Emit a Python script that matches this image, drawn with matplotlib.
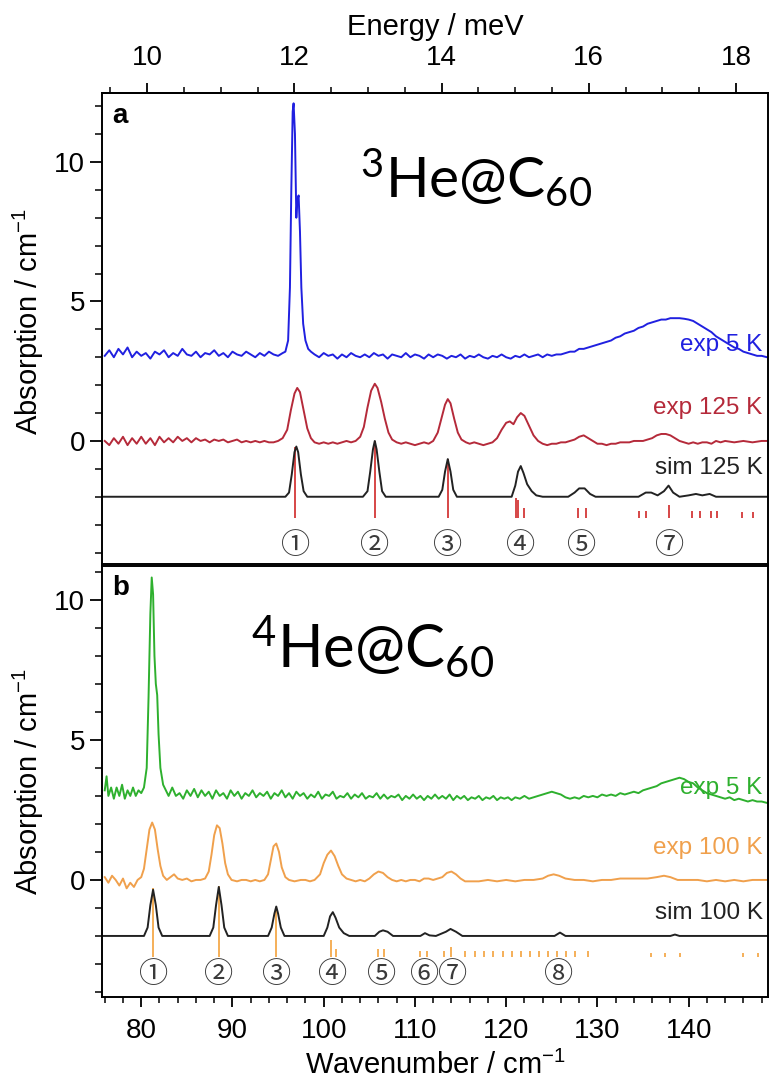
import numpy as np
import matplotlib
matplotlib.use("Agg")
import matplotlib.pyplot as plt
from matplotlib.ticker import MultipleLocator, FixedLocator

plt.rcParams['font.family'] = ['Liberation Sans', 'DejaVu Sans']
plt.rcParams['mathtext.default'] = 'regular'

# ---------------- Panel a : 3He@C60 ----------------
a_exp5_x = [76.0, 76.5, 77.0, 77.5, 78.0, 78.5, 79.0, 79.5, 80.0, 80.5, 81.0, 81.5, 82.0, 82.5, 83.0, 83.5,
            84.0, 84.5, 85.0, 85.5, 86.0, 86.5, 87.0, 87.5, 88.0, 88.5, 89.0, 89.5, 90.0, 90.5, 91.0, 91.5,
            92.0, 92.5, 93.0, 93.5, 94.0, 94.5, 95.0, 95.5, 95.8, 96.1, 96.3, 96.45, 96.6, 96.7, 96.85, 97.0,
            97.1, 97.25, 97.4, 97.55, 97.75, 98.0, 98.3, 98.6, 99.0, 99.5, 100.0, 100.5, 101.0, 101.5, 102.0,
            102.5, 103.0, 103.5, 104.0, 104.5, 105.0, 105.5, 106.0, 106.5, 107.0, 107.5, 108.0, 108.5, 109.0,
            109.5, 110.0, 110.5, 111.0, 111.5, 112.0, 112.5, 113.0, 113.5, 114.0, 114.5, 115.0, 115.5, 116.0,
            116.5, 117.0, 117.5, 118.0, 118.5, 119.0, 119.5, 120.0, 120.5, 121.0, 121.5, 122.0, 122.5, 123.0,
            123.5, 124.0, 124.5, 125.0, 125.5, 126.0, 126.5, 127.0, 127.5, 128.0, 128.5, 129.0, 129.5, 130.0,
            130.5, 131.0, 131.5, 132.0, 132.5, 133.0, 133.5, 134.0, 134.5, 135.0, 135.5, 136.0, 136.5, 137.0,
            137.5, 138.0, 138.5, 139.0, 139.5, 140.0, 140.5, 141.0, 141.5, 142.0, 142.5, 143.0, 143.5, 144.0,
            144.5, 145.0, 145.5, 146.0, 146.5, 147.0, 147.5, 148.0, 148.6]
a_exp5_y = [3.05, 3.25, 3.0, 3.3, 3.1, 3.35, 3.0, 3.2, 3.05, 3.15, 2.95, 3.2, 3.1, 3.25, 3.0, 3.15,
            3.05, 3.3, 3.1, 3.05, 3.2, 3.0, 3.15, 3.1, 3.25, 3.05, 3.15, 3.0, 3.2, 3.1, 3.05, 3.2,
            3.1, 3.0, 3.15, 3.05, 3.2, 3.1, 3.05, 3.15, 3.2, 3.6, 5.5, 9.0, 11.8, 12.1, 11.0, 8.0,
            8.6, 8.8, 7.5, 5.5, 4.2, 3.6, 3.3, 3.2, 3.1, 3.0, 3.15, 3.05, 3.1, 2.95, 3.1,
            3.0, 3.15, 3.05, 3.0, 3.1, 3.0, 3.15, 3.05, 3.1, 2.95, 3.1, 3.05, 3.0, 3.15,
            3.0, 3.1, 3.05, 2.95, 3.1, 3.0, 3.1, 3.05, 2.95, 3.05, 3.0, 3.1, 2.95, 3.05,
            3.0, 3.1, 3.0, 2.95, 3.05, 3.0, 3.1, 3.0, 2.95, 3.05, 3.0, 3.1, 3.0, 3.05,
            3.1, 3.0, 3.1, 3.05, 3.1, 3.1, 3.15, 3.2, 3.2, 3.3, 3.3, 3.35, 3.4, 3.45,
            3.5, 3.55, 3.6, 3.7, 3.75, 3.85, 3.9, 3.95, 4.05, 4.1, 4.2, 4.25, 4.3, 4.35,
            4.35, 4.4, 4.4, 4.4, 4.38, 4.35, 4.3, 4.2, 4.1, 4.0, 3.9, 3.75, 3.65, 3.55,
            3.45, 3.35, 3.3, 3.2, 3.15, 3.1, 3.05, 3.05, 3.0]

a_exp125_x = [76.0, 76.5, 77.0, 77.5, 78.0, 78.5, 79.0, 79.5, 80.0, 80.5, 81.0, 81.5, 82.0, 82.5, 83.0, 83.5,
              84.0, 84.5, 85.0, 85.5, 86.0, 86.5, 87.0, 87.5, 88.0, 88.5, 89.0, 89.5, 90.0, 90.5, 91.0, 91.5,
              92.0, 92.5, 93.0, 93.5, 94.0, 94.5, 95.0, 95.5, 96.0, 96.4, 96.8, 97.1, 97.4, 97.8, 98.2, 98.6,
              99.0, 99.5, 100.0, 100.5, 101.0, 101.5, 102.0, 102.5, 103.0, 103.5, 104.0, 104.4, 104.8, 105.2,
              105.6, 105.9, 106.3, 106.7, 107.1, 107.5, 108.0, 108.5, 109.0, 109.5, 110.0, 110.5, 111.0, 111.5,
              112.0, 112.5, 112.9, 113.3, 113.6, 113.9, 114.3, 114.7, 115.1, 115.6, 116.0, 116.5, 117.0, 117.5,
              118.0, 118.5, 119.0, 119.5, 120.0, 120.4, 120.8, 121.2, 121.6, 122.0, 122.5, 123.0, 123.5, 124.0,
              124.5, 125.0, 125.5, 126.0, 126.5, 127.0, 127.5, 128.0, 128.5, 129.0, 129.5, 130.0, 130.5, 131.0,
              131.5, 132.0, 132.5, 133.0, 133.5, 134.0, 134.5, 135.0, 135.5, 136.0, 136.5, 137.0, 137.5, 138.0,
              138.5, 139.0, 139.5, 140.0, 140.5, 141.0, 141.5, 142.0, 142.5, 143.0, 143.5, 144.0, 145.0, 146.0,
              147.0, 148.0, 148.6]
a_exp125_y = [0.0, -0.15, 0.1, -0.1, 0.15, -0.15, 0.1, -0.1, 0.15, -0.1, 0.1, -0.15, 0.15, -0.05, 0.1, -0.05,
              0.15, 0.0, 0.1, -0.05, 0.1, 0.0, 0.05, -0.05, 0.05, 0.0, 0.05, -0.05, 0.0, 0.05, -0.05, 0.0,
              -0.05, 0.0, -0.05, 0.0, -0.05, -0.05, 0.0, 0.1, 0.4, 1.1, 1.7, 1.9, 1.75, 1.1, 0.45, 0.1,
              -0.05, -0.1, -0.05, -0.1, -0.05, -0.1, -0.05, 0.0, -0.05, 0.0, 0.15, 0.5, 1.2, 1.8,
              2.05, 1.9, 1.4, 0.8, 0.3, 0.05, -0.05, -0.1, -0.05, -0.1, -0.15, -0.1, -0.05, -0.1,
              0.0, 0.3, 0.8, 1.3, 1.5, 1.35, 0.8, 0.3, 0.05, -0.05, -0.1, -0.05, -0.1, -0.15,
              -0.1, -0.05, 0.1, 0.4, 0.65, 0.7, 0.6, 0.85, 1.0, 0.9, 0.55, 0.2, 0.0, -0.1,
              -0.15, -0.1, -0.1, -0.05, -0.05, 0.0, 0.05, 0.15, 0.2, 0.1, 0.0, -0.1, -0.1, -0.15,
              -0.1, -0.1, -0.05, -0.05, -0.05, 0.0, 0.0, 0.0, 0.05, 0.1, 0.2, 0.25, 0.25, 0.2,
              0.1, 0.0, -0.05, -0.1, -0.05, -0.1, -0.05, -0.05, -0.1, 0.0, -0.05, 0.0, -0.05, 0.0,
              -0.05, 0.0, 0.0]

a_sim_x = [75.7, 95.8, 96.2, 96.5, 96.8, 97.0, 97.2, 97.5, 97.8, 98.2, 104.3, 104.8, 105.1, 105.4, 105.6,
           105.8, 106.1, 106.4, 106.8, 112.6, 113.0, 113.3, 113.6, 113.9, 114.2, 114.6, 120.6, 121.0, 121.3,
           121.6, 121.9, 122.3, 122.8, 123.3, 124.0, 126.8, 127.5, 128.0, 128.6, 129.2, 129.8, 134.5, 135.3,
           135.9, 136.6, 137.3, 137.8, 138.3, 139.0, 140.0, 140.8, 141.5, 142.3, 143.0, 148.6]
a_sim_y = [-2.0, -2.0, -1.85, -1.2, -0.4, -0.2, -0.4, -1.2, -1.8, -2.0, -2.0, -1.8, -1.1, -0.3, 0.0,
           -0.3, -1.1, -1.8, -2.0, -2.0, -1.75, -1.1, -0.65, -1.1, -1.75, -2.0, -2.0, -1.6, -1.1,
           -0.9, -1.15, -1.55, -1.8, -1.95, -2.0, -2.0, -1.85, -1.7, -1.7, -1.9, -2.0, -2.0, -1.85,
           -1.85, -1.95, -1.8, -1.6, -1.85, -2.0, -1.95, -1.9, -1.95, -1.9, -2.0, -2.0]

a_stick_x = [96.9, 105.6, 113.6, 121.1, 121.3, 122.0, 127.9, 128.8, 134.6, 135.3, 137.9, 140.4,
             141.2, 142.4, 143.1, 145.9, 147.1]
a_stick_top = [-0.2, 0.0, -0.65, -2.05, -2.1, -2.4, -2.4, -2.4, -2.5, -2.5, -2.3, -2.5,
               -2.5, -2.5, -2.5, -2.55, -2.55]
a_stick_base = -2.75

a_peak_labels = ['①', '②', '③', '④', '⑤', '⑦']
a_peak_pos = [96.9, 105.6, 113.6, 121.6, 128.3, 137.9]

# ---------------- Panel b : 4He@C60 ----------------
b_exp5_x = [76.0, 76.2, 76.4, 76.7, 77.0, 77.3, 77.6, 77.9, 78.2, 78.5, 78.8, 79.1, 79.4, 79.7, 80.0, 80.3,
            80.6, 80.8, 81.0, 81.15, 81.3, 81.45, 81.6, 81.75, 81.9, 82.1, 82.4, 82.7, 83.0, 83.4, 83.8, 84.2,
            84.6, 85.0, 85.4, 85.8, 86.2, 86.6, 87.0, 87.4, 87.8, 88.2, 88.6, 89.0, 89.4, 89.8, 90.2, 90.6,
            91.0, 91.4, 91.8, 92.2, 92.6, 93.0, 93.4, 93.8, 94.2, 94.6, 95.0, 95.4, 95.8, 96.2, 96.6, 97.0,
            97.4, 97.8, 98.2, 98.6, 99.0, 99.4, 99.8, 100.2, 100.6, 101.0, 101.4, 101.8, 102.2, 102.6, 103.0,
            103.4, 103.8, 104.2, 104.6, 105.0, 105.4, 105.8, 106.2, 106.6, 107.0, 107.4, 107.8, 108.2, 108.6,
            109.0, 109.4, 109.8, 110.2, 110.6, 111.0, 111.4, 111.8, 112.2, 112.6, 113.0, 113.4, 113.8, 114.2,
            114.6, 115.0, 115.4, 115.8, 116.2, 116.6, 117.0, 117.4, 117.8, 118.2, 118.6, 119.0, 119.4, 119.8,
            120.2, 120.6, 121.0, 121.5, 122.0, 122.5, 123.0, 123.5, 124.0, 124.5, 125.0, 125.5, 126.0, 126.5,
            127.0, 127.5, 128.0, 128.5, 129.0, 129.5, 130.0, 130.5, 131.0, 131.5, 132.0, 132.5, 133.0, 133.5,
            134.0, 134.5, 135.0, 135.5, 136.0, 136.5, 137.0, 137.5, 138.0, 138.5, 139.0, 139.5, 140.0, 140.5,
            141.0, 141.5, 142.0, 142.5, 143.0, 143.5, 144.0, 144.5, 145.0, 145.5, 146.0, 146.5, 147.0, 147.5,
            148.0, 148.6]
b_exp5_y = [3.2, 3.7, 3.0, 3.3, 2.9, 3.3, 3.0, 3.4, 2.9, 3.2, 3.0, 3.3, 3.0, 3.2, 3.1, 3.3,
            4.0, 6.5, 9.5, 10.8, 10.2, 8.0, 7.0, 6.6, 5.2, 4.0, 3.4, 3.2, 3.0, 3.3, 3.0, 3.1,
            2.9, 3.2, 3.0, 3.25, 2.95, 3.2, 3.0, 3.15, 2.9, 3.2, 3.0, 3.1, 2.9, 3.2, 3.0, 3.15,
            2.9, 3.1, 3.0, 3.2, 2.95, 3.1, 3.0, 3.15, 2.9, 3.1, 3.0, 3.2, 2.95, 3.1, 2.9, 3.15,
            3.0, 3.1, 2.9, 3.05, 2.95, 3.15, 2.9, 3.05, 3.0, 3.15, 2.9, 3.0, 2.95, 3.1, 2.9,
            3.05, 2.95, 3.1, 2.9, 3.0, 2.95, 3.1, 2.9, 3.05, 2.9, 3.0, 2.95, 3.05, 2.85,
            3.0, 2.9, 3.05, 2.9, 3.0, 2.85, 3.0, 2.9, 3.05, 2.9, 3.0, 2.9, 3.05, 2.85,
            3.0, 2.9, 3.0, 2.85, 2.95, 2.9, 3.0, 2.85, 2.95, 2.9, 3.0, 2.85, 2.95, 2.9,
            2.95, 2.85, 2.95, 2.9, 3.0, 2.9, 2.95, 3.0, 3.05, 3.1, 3.15, 3.1, 3.05, 2.95,
            2.9, 2.95, 2.9, 3.0, 2.95, 3.0, 2.95, 3.05, 3.0, 3.05, 3.0, 3.1, 3.05, 3.1,
            3.15, 3.1, 3.2, 3.25, 3.3, 3.35, 3.45, 3.5, 3.55, 3.6, 3.65, 3.6, 3.5, 3.45,
            3.3, 3.2, 3.1, 3.05, 3.0, 2.95, 2.9, 2.95, 2.85, 2.9, 2.85, 2.8, 2.85, 2.8,
            2.8, 2.75]

b_exp100_x = [76.0, 76.4, 76.8, 77.2, 77.6, 78.0, 78.4, 78.8, 79.2, 79.6, 80.0, 80.3, 80.6, 80.9, 81.2, 81.5,
              81.8, 82.1, 82.4, 82.8, 83.2, 83.6, 84.0, 84.5, 85.0, 85.5, 86.0, 86.5, 87.0, 87.4, 87.7, 88.0,
              88.3, 88.6, 88.9, 89.2, 89.5, 89.9, 90.5, 91.0, 91.5, 92.0, 92.5, 93.0, 93.5, 93.9, 94.2, 94.5,
              94.8, 95.1, 95.4, 95.8, 96.2, 96.8, 97.5, 98.0, 98.5, 99.0, 99.6, 100.0, 100.4, 100.8, 101.2,
              101.6, 102.0, 102.5, 103.0, 103.5, 104.0, 104.5, 105.0, 105.5, 106.0, 106.5, 107.0, 107.5, 108.0,
              108.5, 109.0, 109.5, 110.0, 110.5, 111.0, 111.5, 112.0, 112.5, 113.0, 113.5, 114.0, 114.5, 115.0,
              115.5, 116.0, 117.0, 118.0, 119.0, 120.0, 121.0, 122.0, 123.0, 124.0, 124.6, 125.2, 125.8, 126.5,
              127.5, 128.5, 129.5, 130.5, 131.5, 132.5, 133.5, 134.5, 135.5, 136.5, 137.3, 138.0, 138.8, 140.0,
              141.0, 142.0, 143.0, 144.0, 145.0, 146.0, 147.0, 148.6]
b_exp100_y = [0.1, -0.1, 0.15, 0.0, -0.2, 0.05, -0.3, -0.1, -0.25, 0.0, 0.1, 0.4, 1.1, 1.8, 2.05, 1.8,
              1.1, 0.5, 0.15, 0.0, 0.1, 0.2, 0.05, 0.0, 0.05, -0.05, 0.0, 0.0, 0.05, 0.3, 0.9, 1.6,
              1.95, 1.85, 1.3, 0.6, 0.2, 0.0, -0.05, 0.0, 0.0, -0.05, 0.0, -0.05, 0.0, 0.2, 0.7, 1.2,
              1.3, 1.0, 0.45, 0.1, 0.0, -0.05, 0.0, 0.0, -0.05, 0.0, 0.2, 0.6, 0.9, 1.05, 0.85,
              0.5, 0.2, 0.05, 0.0, -0.05, 0.0, -0.05, 0.05, 0.2, 0.3, 0.25, 0.1, 0.0, -0.05,
              0.0, -0.05, 0.0, 0.0, -0.05, 0.05, 0.05, 0.0, 0.05, 0.1, 0.25, 0.3, 0.2, 0.05,
              -0.05, -0.05, -0.05, 0.0, -0.05, 0.0, -0.05, 0.0, 0.0, 0.05, 0.15, 0.2, 0.15, 0.05,
              0.0, 0.0, -0.05, 0.0, 0.0, 0.05, 0.05, 0.05, 0.05, 0.1, 0.15, 0.1, 0.0, 0.0,
              0.0, -0.05, 0.0, -0.05, 0.0, -0.05, 0.0, 0.0]

b_sim_x = [75.7, 80.3, 80.7, 81.0, 81.3, 81.6, 81.9, 82.3, 87.5, 87.9, 88.2, 88.5, 88.8, 89.1, 89.5, 93.9,
           94.3, 94.6, 94.8, 95.0, 95.3, 95.7, 100.0, 100.4, 100.7, 101.0, 101.3, 101.7, 102.2, 102.8, 105.6,
           106.1, 106.5, 107.0, 107.6, 110.6, 111.1, 111.6, 112.3, 113.4, 113.9, 114.5, 115.2, 125.3, 125.9,
           126.5, 138.0, 138.5, 139.0, 148.6]
b_sim_y = [-2.0, -2.0, -1.7, -0.9, -0.35, -0.9, -1.7, -2.0, -2.0, -1.7, -0.9, -0.25, -0.9, -1.7, -2.0, -2.0,
           -1.7, -1.2, -0.95, -1.2, -1.7, -2.0, -2.0, -1.7, -1.3, -1.15, -1.35, -1.7, -1.9, -2.0, -2.0,
           -1.85, -1.8, -1.85, -2.0, -2.0, -1.9, -1.98, -2.0, -1.85, -1.75, -1.85, -2.0, -2.0, -1.88,
           -2.0, -2.0, -1.95, -2.0, -2.0]

b_stick_x = [81.3, 88.5, 94.8, 100.8, 101.4, 106.0, 106.6, 110.6, 111.3, 113.2, 114.0, 115.5, 116.6, 117.6,
             118.6, 119.6, 120.6, 121.6, 122.6, 123.6, 124.6, 125.6, 126.6, 127.6, 129.0, 135.9, 137.4,
             139.0, 146.0, 147.6]
b_stick_top = [-0.3, -0.2, -0.95, -2.15, -2.45, -2.45, -2.45, -2.55, -2.55, -2.55, -2.4, -2.55, -2.55, -2.55,
               -2.55, -2.55, -2.55, -2.55, -2.55, -2.55, -2.55, -2.55, -2.55, -2.55, -2.55, -2.6, -2.6,
               -2.6, -2.6, -2.6]
b_stick_base = -2.75

b_peak_labels = ['①', '②', '③', '④', '⑤', '⑥', '⑦', '⑧']
b_peak_pos = [81.3, 88.5, 94.8, 101.0, 106.3, 111.1, 114.1, 125.7]

energy_ticks = [10, 12, 14, 16, 18]
CM_PER_MEV = 8.0655

# ---------------- Figure ----------------
fig = plt.figure(figsize=(7.73, 10.82), dpi=100)
W, H = 773, 1082
ax_a = fig.add_axes([102 / W, 1 - 564 / H, 666 / W, 471 / H])
ax_b = fig.add_axes([102 / W, 1 - 997 / H, 666 / W, 431 / H])

BLUE = '#2020e0'
RED = '#b52a3a'
GREEN = '#2eb02e'
ORANGE = '#f0a04c'
STICK_RED = '#d02828'
STICK_OR = '#f4a23c'
TFS = 20     # tick labels
LFS = 21     # axis labels
CFS = 17.5   # curve labels
CIRC_FONT = ['Noto Sans CJK JP', 'DejaVu Sans']
BIG_FONT = ['Lato', 'DejaVu Sans']

for ax in (ax_a, ax_b):
    ax.set_xlim(75.7, 148.7)
    for s in ax.spines.values():
        s.set_linewidth(1.4)
    ax.yaxis.set_major_locator(MultipleLocator(5))
    ax.yaxis.set_minor_locator(MultipleLocator(1))
    ax.tick_params(axis='y', which='major', direction='out', length=9, width=1.3, labelsize=TFS, pad=3)
    ax.tick_params(axis='y', which='minor', direction='out', length=5, width=1.1)
    ax.tick_params(axis='y', which='both', right=False)

# panel a
ax_a.set_ylim(-4.41, 12.47)
ax_a.plot(a_exp5_x, a_exp5_y, color=BLUE, lw=1.4)
ax_a.plot(a_exp125_x, a_exp125_y, color=RED, lw=1.4)
ax_a.vlines(a_stick_x, a_stick_base, a_stick_top, color=STICK_RED, lw=1.2)
ax_a.plot(a_sim_x, a_sim_y, color='#222222', lw=1.4)
ax_a.tick_params(axis='x', which='both', bottom=False, top=False, labelbottom=False)
for lab, pos in zip(a_peak_labels, a_peak_pos):
    ax_a.text(pos, -3.75, lab, ha='center', va='center', fontsize=21, color='#3a3a3a', family=CIRC_FONT)
ax_a.text(148.1, 3.45, 'exp 5 K', color=BLUE, fontsize=CFS, ha='right', va='center')
ax_a.text(148.1, 1.18, 'exp 125 K', color=RED, fontsize=CFS, ha='right', va='center')
ax_a.text(148.1, -0.97, 'sim 125 K', color='#222222', fontsize=CFS, ha='right', va='center')
ax_a.text(0.015, 0.978, 'a', transform=ax_a.transAxes, fontsize=20, fontweight='bold', ha='left', va='top')
ax_a.text(104.0, 9.45, r'$^{3}$He@C$_{60}$', fontsize=41, ha='left', va='center', family=BIG_FONT)
ax_a.set_ylabel(r'Absorption / cm$^{-1}$', fontsize=LFS)
ax_a.yaxis.set_label_coords(-0.084, 0.515)

sec = ax_a.secondary_xaxis('top', functions=(lambda x: x / CM_PER_MEV, lambda e: e * CM_PER_MEV))
sec.xaxis.set_major_locator(FixedLocator(energy_ticks))
sec.xaxis.set_minor_locator(MultipleLocator(0.5))
sec.tick_params(which='major', direction='out', length=7, width=1.3, labelsize=TFS, pad=9)
sec.tick_params(which='minor', direction='out', length=4, width=1.1)
sec.spines['top'].set_linewidth(1.4)
sec.set_xlabel('Energy / meV', fontsize=LFS, labelpad=7)

# panel b
ax_b.set_ylim(-4.18, 11.21)
ax_b.plot(b_exp5_x, b_exp5_y, color=GREEN, lw=1.4)
ax_b.plot(b_exp100_x, b_exp100_y, color=ORANGE, lw=1.4)
ax_b.vlines(b_stick_x, b_stick_base, b_stick_top, color=STICK_OR, lw=1.2)
ax_b.plot(b_sim_x, b_sim_y, color='#222222', lw=1.4)
ax_b.xaxis.set_major_locator(MultipleLocator(10))
ax_b.xaxis.set_minor_locator(MultipleLocator(2))
ax_b.tick_params(axis='x', which='major', direction='out', length=7, width=1.3, labelsize=TFS, pad=8, top=False)
ax_b.tick_params(axis='x', which='minor', direction='out', length=4, width=1.1, top=False)
for lab, pos in zip(b_peak_labels, b_peak_pos):
    ax_b.text(pos, -3.4, lab, ha='center', va='center', fontsize=21, color='#3a3a3a', family=CIRC_FONT)
ax_b.text(148.1, 3.3, 'exp 5 K', color=GREEN, fontsize=CFS, ha='right', va='center')
ax_b.text(148.1, 1.14, 'exp 100 K', color=ORANGE, fontsize=CFS, ha='right', va='center')
ax_b.text(148.1, -1.18, 'sim 100 K', color='#222222', fontsize=CFS, ha='right', va='center')
ax_b.text(0.015, 0.978, 'b', transform=ax_b.transAxes, fontsize=20, fontweight='bold', ha='left', va='top')
ax_b.text(92.0, 8.35, r'$^{4}$He@C$_{60}$', fontsize=43, ha='left', va='center', family=BIG_FONT)
ax_b.set_ylabel(r'Absorption / cm$^{-1}$', fontsize=LFS)
ax_b.yaxis.set_label_coords(-0.084, 0.5)
ax_b.set_xlabel(r'Wavenumber / cm$^{-1}$', fontsize=LFS, labelpad=5)

fig.savefig('out.png', dpi=100)
